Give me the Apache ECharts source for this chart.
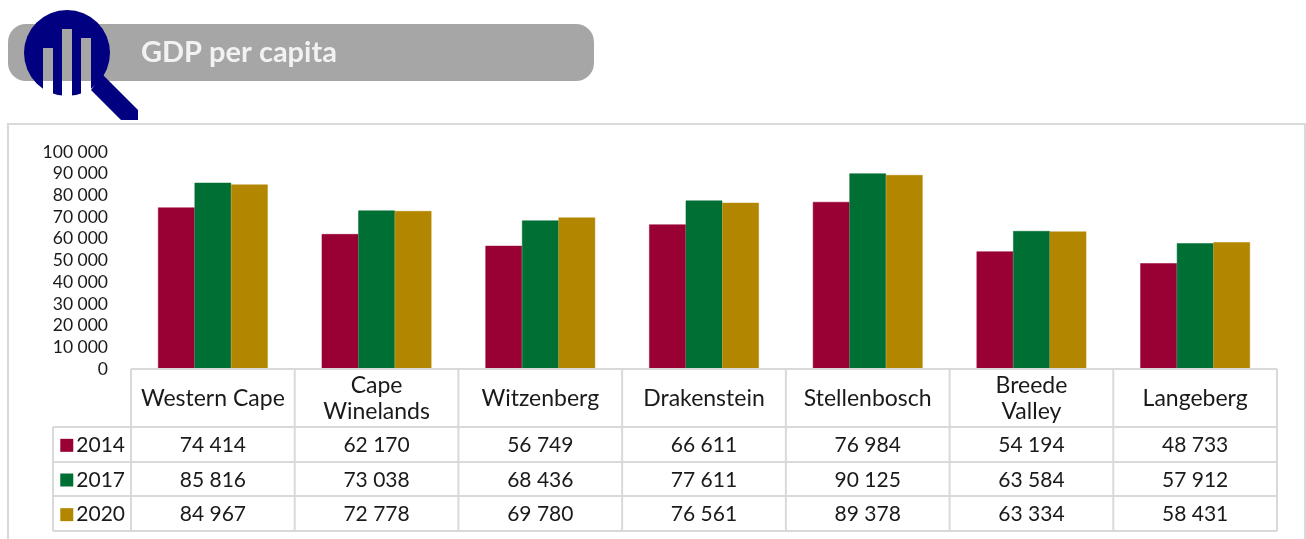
<!DOCTYPE html>
<html>
<head>
<meta charset="utf-8">
<title>GDP per capita</title>
<style>
  html, body { margin: 0; padding: 0; background: #fff; }
  #chart { width: 1306px; height: 539px; }
</style>
<script src="https://cdn.jsdelivr.net/npm/echarts@6/dist/echarts.min.js"></script>
</head>
<body>
<div id="chart"></div>
<script>
const categories = ["Western Cape", "Cape\nWinelands", "Witzenberg", "Drakenstein", "Stellenbosch", "Breede\nValley", "Langeberg"];
const years = ["2014", "2017", "2020"];
const values2014 = [74414, 62170, 56749, 66611, 76984, 54194, 48733];
const values2017 = [85816, 73038, 68436, 77611, 90125, 63584, 57912];
const values2020 = [84967, 72778, 69780, 76561, 89378, 63334, 58431];
const colors = ["#990033", "#006F33", "#B38600"];
const title = "GDP per capita";

const FONT = "Lato";
const inkColor = "#1a1a1a";
const ruleColor = "#d9d9d9";
const seriesValues = [values2014, values2017, values2020];

// layout of the table under the plot
const left = 131, right = 1277, plotTop = 152, plotBottom = 369;
const rowLines = [369, 427, 462, 496, 531];
const legendLeft = 53;
const colWidth = (right - left) / categories.length;

function fmt(v) {
  return String(v).replace(/\B(?=(\d{3})+$)/g, " ");
}

function rule(x1, y1, x2, y2) {
  return {
    type: "line",
    z: 5,
    shape: { x1, y1, x2, y2 },
    style: { stroke: ruleColor, lineWidth: 2 }
  };
}

function logoBars() {
  const cuts = [[43, 48], [62, 29], [81, 38]];
  const out = [];
  cuts.forEach(function(c) {
    out.push({ type: "rect", z: 2, shape: { x: c[0], y: c[1], width: 10, height: 81 - c[1] }, style: { fill: "#a6a6a6" } });
    out.push({ type: "rect", z: 2, shape: { x: c[0], y: 81, width: 10, height: 17 }, style: { fill: "#fff" } });
  });
  return out;
}

const tableRules = [];
rowLines.forEach(function(y, i) {
  tableRules.push(rule(i === 0 ? left : legendLeft, y, right, y));
});
for (let i = 0; i <= categories.length; i++) {
  tableRules.push(rule(left + i * colWidth, plotBottom, left + i * colWidth, rowLines[4]));
}
tableRules.push(rule(legendLeft, rowLines[1], legendLeft, rowLines[4]));

const tableData = [];
seriesValues.forEach(function(vals, r) {
  vals.forEach(function(v, c) {
    tableData.push([c, r, v]);
  });
});

const swatches = {};
years.forEach(function(y, i) {
  swatches["s" + i] = { width: 13, height: 13, backgroundColor: colors[i] };
});
swatches.t = { fontFamily: FONT, fontSize: 21, color: inkColor, padding: [0, 0, 0, 3] };

const chart = echarts.init(document.getElementById("chart"));

chart.setOption({
  animation: false,
  backgroundColor: "#fff",
  textStyle: { fontFamily: FONT },
  grid: [
    { left: left, top: plotTop, width: right - left, height: plotBottom - plotTop },
    { left: left, top: rowLines[1] + 1, width: right - left, height: rowLines[4] - rowLines[1] }
  ],
  xAxis: [
    {
      type: "category",
      gridIndex: 0,
      data: categories,
      axisLine: { show: false },
      axisTick: { show: false },
      axisLabel: {
        interval: 0,
        margin: 30,
        verticalAlign: "middle",
        lineHeight: 26,
        fontSize: 23,
        color: inkColor
      }
    },
    {
      type: "category",
      gridIndex: 1,
      data: categories,
      show: false
    }
  ],
  yAxis: [
    {
      type: "value",
      gridIndex: 0,
      min: 0,
      max: 100000,
      interval: 10000,
      splitLine: { show: false },
      axisLine: { show: false },
      axisTick: { show: false },
      axisLabel: {
        margin: 23,
        fontSize: 17.5,
        color: inkColor,
        padding: [5, 0, 0, 0],
        formatter: fmt
      }
    },
    {
      type: "category",
      gridIndex: 1,
      data: years,
      inverse: true,
      axisLine: { show: false },
      axisTick: { show: false },
      axisLabel: {
        margin: 6,
        formatter: function(v, i) {
          return "{s" + i + "|}{t|" + v + "}";
        },
        rich: swatches
      }
    }
  ],
  series: years.map(function(y, i) {
    return {
      name: y,
      type: "bar",
      xAxisIndex: 0,
      yAxisIndex: 0,
      data: seriesValues[i],
      barGap: 0,
      barCategoryGap: "33%",
      itemStyle: { color: colors[i], borderColor: colors[i], borderWidth: 0.5 }
    };
  }).concat([
    {
      type: "scatter",
      xAxisIndex: 1,
      yAxisIndex: 1,
      symbolSize: 0,
      data: tableData,
      silent: true,
      itemStyle: { opacity: 1 },
      label: {
        show: true,
        position: "inside",
        fontSize: 21,
        color: inkColor,
        opacity: 1,
        formatter: function(p) {
          return fmt(p.value[2]);
        }
      }
    }
  ]),
  graphic: [
    {
      type: "rect",
      z: 1,
      shape: { x: 8, y: 24, width: 586, height: 57, r: 18 },
      style: { fill: "#a6a6a6" }
    },
    {
      type: "circle",
      z: 1,
      shape: { cx: 67, cy: 53, r: 43 },
      style: { fill: "#000080" }
    }
  ].concat(logoBars()).concat([
    {
      type: "polygon",
      z: 3,
      shape: { points: [[103, 75], [138, 110], [138, 120], [121, 120], [91, 90]] },
      style: { fill: "#000080" }
    },
    {
      type: "text",
      z: 4,
      x: 141,
      y: 53,
      style: {
        text: title,
        fill: "#f2f2f2",
        font: "bold 29px " + FONT,
        textVerticalAlign: "middle"
      }
    },
    {
      type: "polyline",
      z: 1,
      shape: { points: [[8, 539], [8, 124], [1305, 124], [1305, 539]] },
      style: { stroke: ruleColor, lineWidth: 2, fill: "none" }
    }
  ]).concat(tableRules)
});
</script>
</body>
</html>
